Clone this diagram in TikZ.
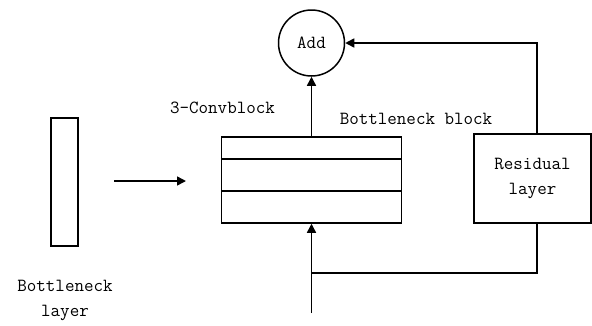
\documentclass[tikz,border=0pt]{standalone}
\usetikzlibrary{arrows.meta}
\begin{document}
\begin{tikzpicture}[x=1pt,y=-1pt,
  line width=1.5pt,
  lbl/.style={font=\ttfamily\fontsize{18.5}{25}\selectfont, inner sep=0pt, align=center},
  box/.style={draw, inner sep=0pt},
  arr/.style={-{Triangle[length=9pt,width=9pt]}}]
\useasboundingbox (0,0) rectangle (592,325);
% bottleneck layer
\node[box, minimum width=27pt, minimum height=128pt] (bl) at (64.5,182) {};
\node[lbl, align=center] (bltxt) at (65,300) {Bottleneck\\layer};
% three-layer conv block
\node[box, minimum width=180pt, minimum height=86pt] (cb) at (311.5,180) {};
\draw (cb.west |- 0,159) -- (cb.east |- 0,159);
\draw (cb.west |- 0,191) -- (cb.east |- 0,191);
\node[lbl] (cbtxt) at (222.5,108) {3-Convblock};
\node[lbl] (bbtxt) at (416,119) {Bottleneck block};
% add node
\node[draw, circle, minimum size=66pt, inner sep=0pt, lbl] (add) at (311.5,43) {Add};
% residual layer
\node[box, minimum width=117pt, minimum height=89pt, lbl] (res) at (532.5,178.5) {Residual\\layer};
% connectors
\coordinate (ain) at (114,181);
\coordinate (aout) at (186,181);
\draw[arr] (ain) -- (aout);
\draw[arr] (cb.north) -- (add.south);
\draw[arr] (res.north -| 537,0) |- (add.east);
\coordinate (inp) at (311.5,313);
\coordinate (split) at (311.5,273);
\draw[arr] (inp) -- (cb.south);
\draw (split) -| (res.south -| 537,0);
\end{tikzpicture}
\end{document}
